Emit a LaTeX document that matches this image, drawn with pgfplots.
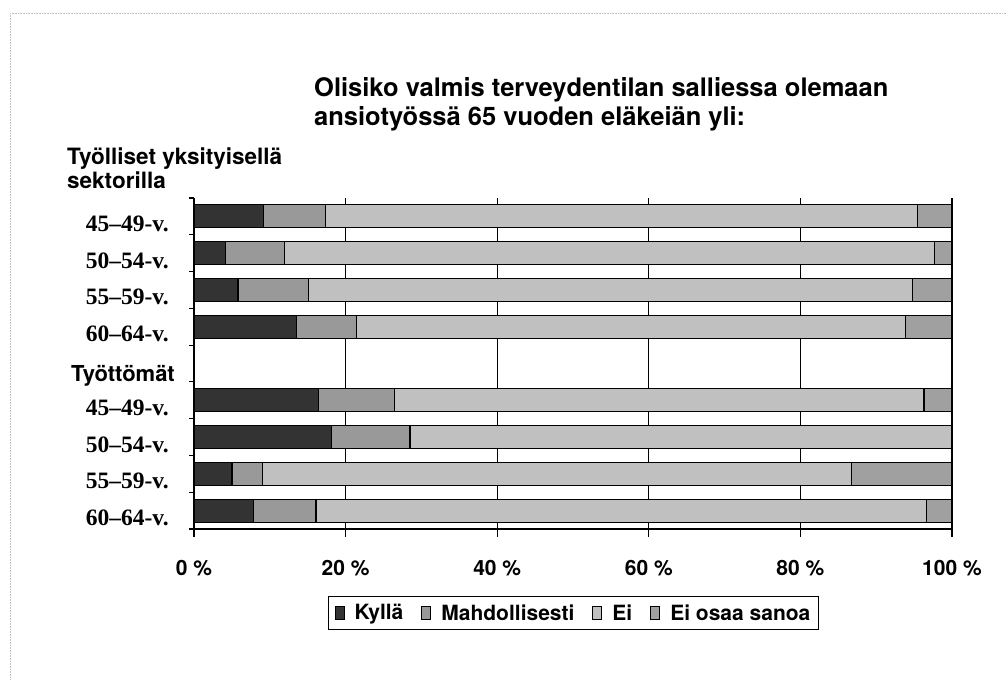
\documentclass[border=0pt]{standalone}
\usepackage{pgfplots}
\pgfplotsset{compat=1.18}
\usepackage{fontspec}
\setmainfont{TeX Gyre Heros}
\newfontfamily\serifb{Liberation Serif}[BoldFont={Liberation Serif Bold}]
\definecolor{ckyl}{HTML}{333333}
\definecolor{cmah}{HTML}{999999}
\definecolor{cei}{HTML}{C0C0C0}
\definecolor{ceos}{HTML}{A0A0A0}
\begin{document}
\begin{tikzpicture}[x=1pt,y=1pt]
\path[use as bounding box] (0,0) rectangle (1007,680);
\draw[gray!50, densely dotted, line width=0.6pt] (10,667) -- (1007,667);
\draw[gray!50, densely dotted, line width=0.6pt] (10,667) -- (10,0);
\node[anchor=base west, inner sep=0pt, font=\fontsize{25.5}{29}\selectfont\bfseries] at (314,583) {Olisiko valmis terveydentilan salliessa olemaan};
\node[anchor=base west, inner sep=0pt, font=\fontsize{25.5}{29}\selectfont\bfseries] at (314,554) {ansiotyössä 65 vuoden eläkeiän yli:};
\node[anchor=base west, inner sep=0pt, font=\fontsize{22.5}{26}\selectfont\bfseries] at (67,515) {Työlliset yksityisellä};
\node[anchor=base west, inner sep=0pt, font=\fontsize{22.5}{26}\selectfont\bfseries] at (67,491) {sektorilla};
\node[anchor=base east, inner sep=0pt, font=\fontsize{22}{26}\selectfont\bfseries] at (175,298) {Työttömät};
\begin{axis}[
  at={(194pt,151pt)}, anchor=south west,
  scale only axis, width=758pt, height=331pt,
  xbar stacked, bar width=23pt,
  xmin=0, xmax=100, ymin=0.5, ymax=9.5, y dir=reverse,
  axis x line=bottom, axis y line=left,
  axis line style={-, black, line width=1.2pt},
  xtick={0,20,40,60,80,100},
  xticklabels={0 \%,20 \%,40 \%,60 \%,80 \%,100 \%},
  xmajorgrids, grid style={black, line width=1.2pt},
  tick align=outside, tick style={black, line width=1.2pt},
  major tick length=8pt,
  xticklabel style={font=\fontsize{21}{24}\selectfont\bfseries, anchor=base, inner sep=0pt, yshift=-38pt},
  ytick={1,2,3,4,6,7,8,9},
  yticklabels={45–49-v.,50–54-v.,55–59-v.,60–64-v.,45–49-v.,50–54-v.,55–59-v.,60–64-v.},
  y tick style={draw=none},
  minor ytick={0.5,1.5,...,9.5},
  minor y tick style={draw=black, line width=1.2pt},
  minor tick length=5pt,
  yticklabel style={font=\fontsize{23.5}{27}\selectfont\serifb\bfseries, anchor=base east, inner sep=0pt, yshift=-15pt, xshift=-17pt},
  legend style={at={(0.5007,-0.2538)}, anchor=center, draw=black, line width=1pt,
    font=\fontsize{21}{22}\selectfont\bfseries, inner sep=6pt,
    /tikz/every odd column/.append style={column sep=8pt},
    /tikz/every even column/.append style={column sep=16pt}},
  legend columns=4,
  legend image code/.code={\draw[#1, draw=black, line width=1pt] (0pt,-6.5pt) rectangle (9pt,6.5pt);},
  every axis plot/.append style={draw=black, line width=1.2pt},
  clip=false,
]
\addplot[fill=ckyl] coordinates {(9.2,1) (4.2,2) (5.8,3) (13.5,4) (16.4,6) (18.1,7) (5.0,8) (7.9,9)};
\addplot[fill=cmah] coordinates {(8.2,1) (7.7,2) (9.3,3) (7.9,4) (10.0,6) (10.4,7) (4.0,8) (8.2,9)};
\addplot[fill=cei] coordinates {(78.1,1) (85.8,2) (79.7,3) (72.5,4) (69.9,6) (71.5,7) (77.7,8) (80.5,9)};
\addplot[fill=ceos] coordinates {(4.5,1) (2.3,2) (5.2,3) (6.1,4) (3.7,6) (0,7) (13.3,8) (3.4,9)};
\legend{Kyllä\strut,Mahdollisesti\strut,Ei\strut,Ei osaa sanoa\strut}
\end{axis}
\end{tikzpicture}
\end{document}
